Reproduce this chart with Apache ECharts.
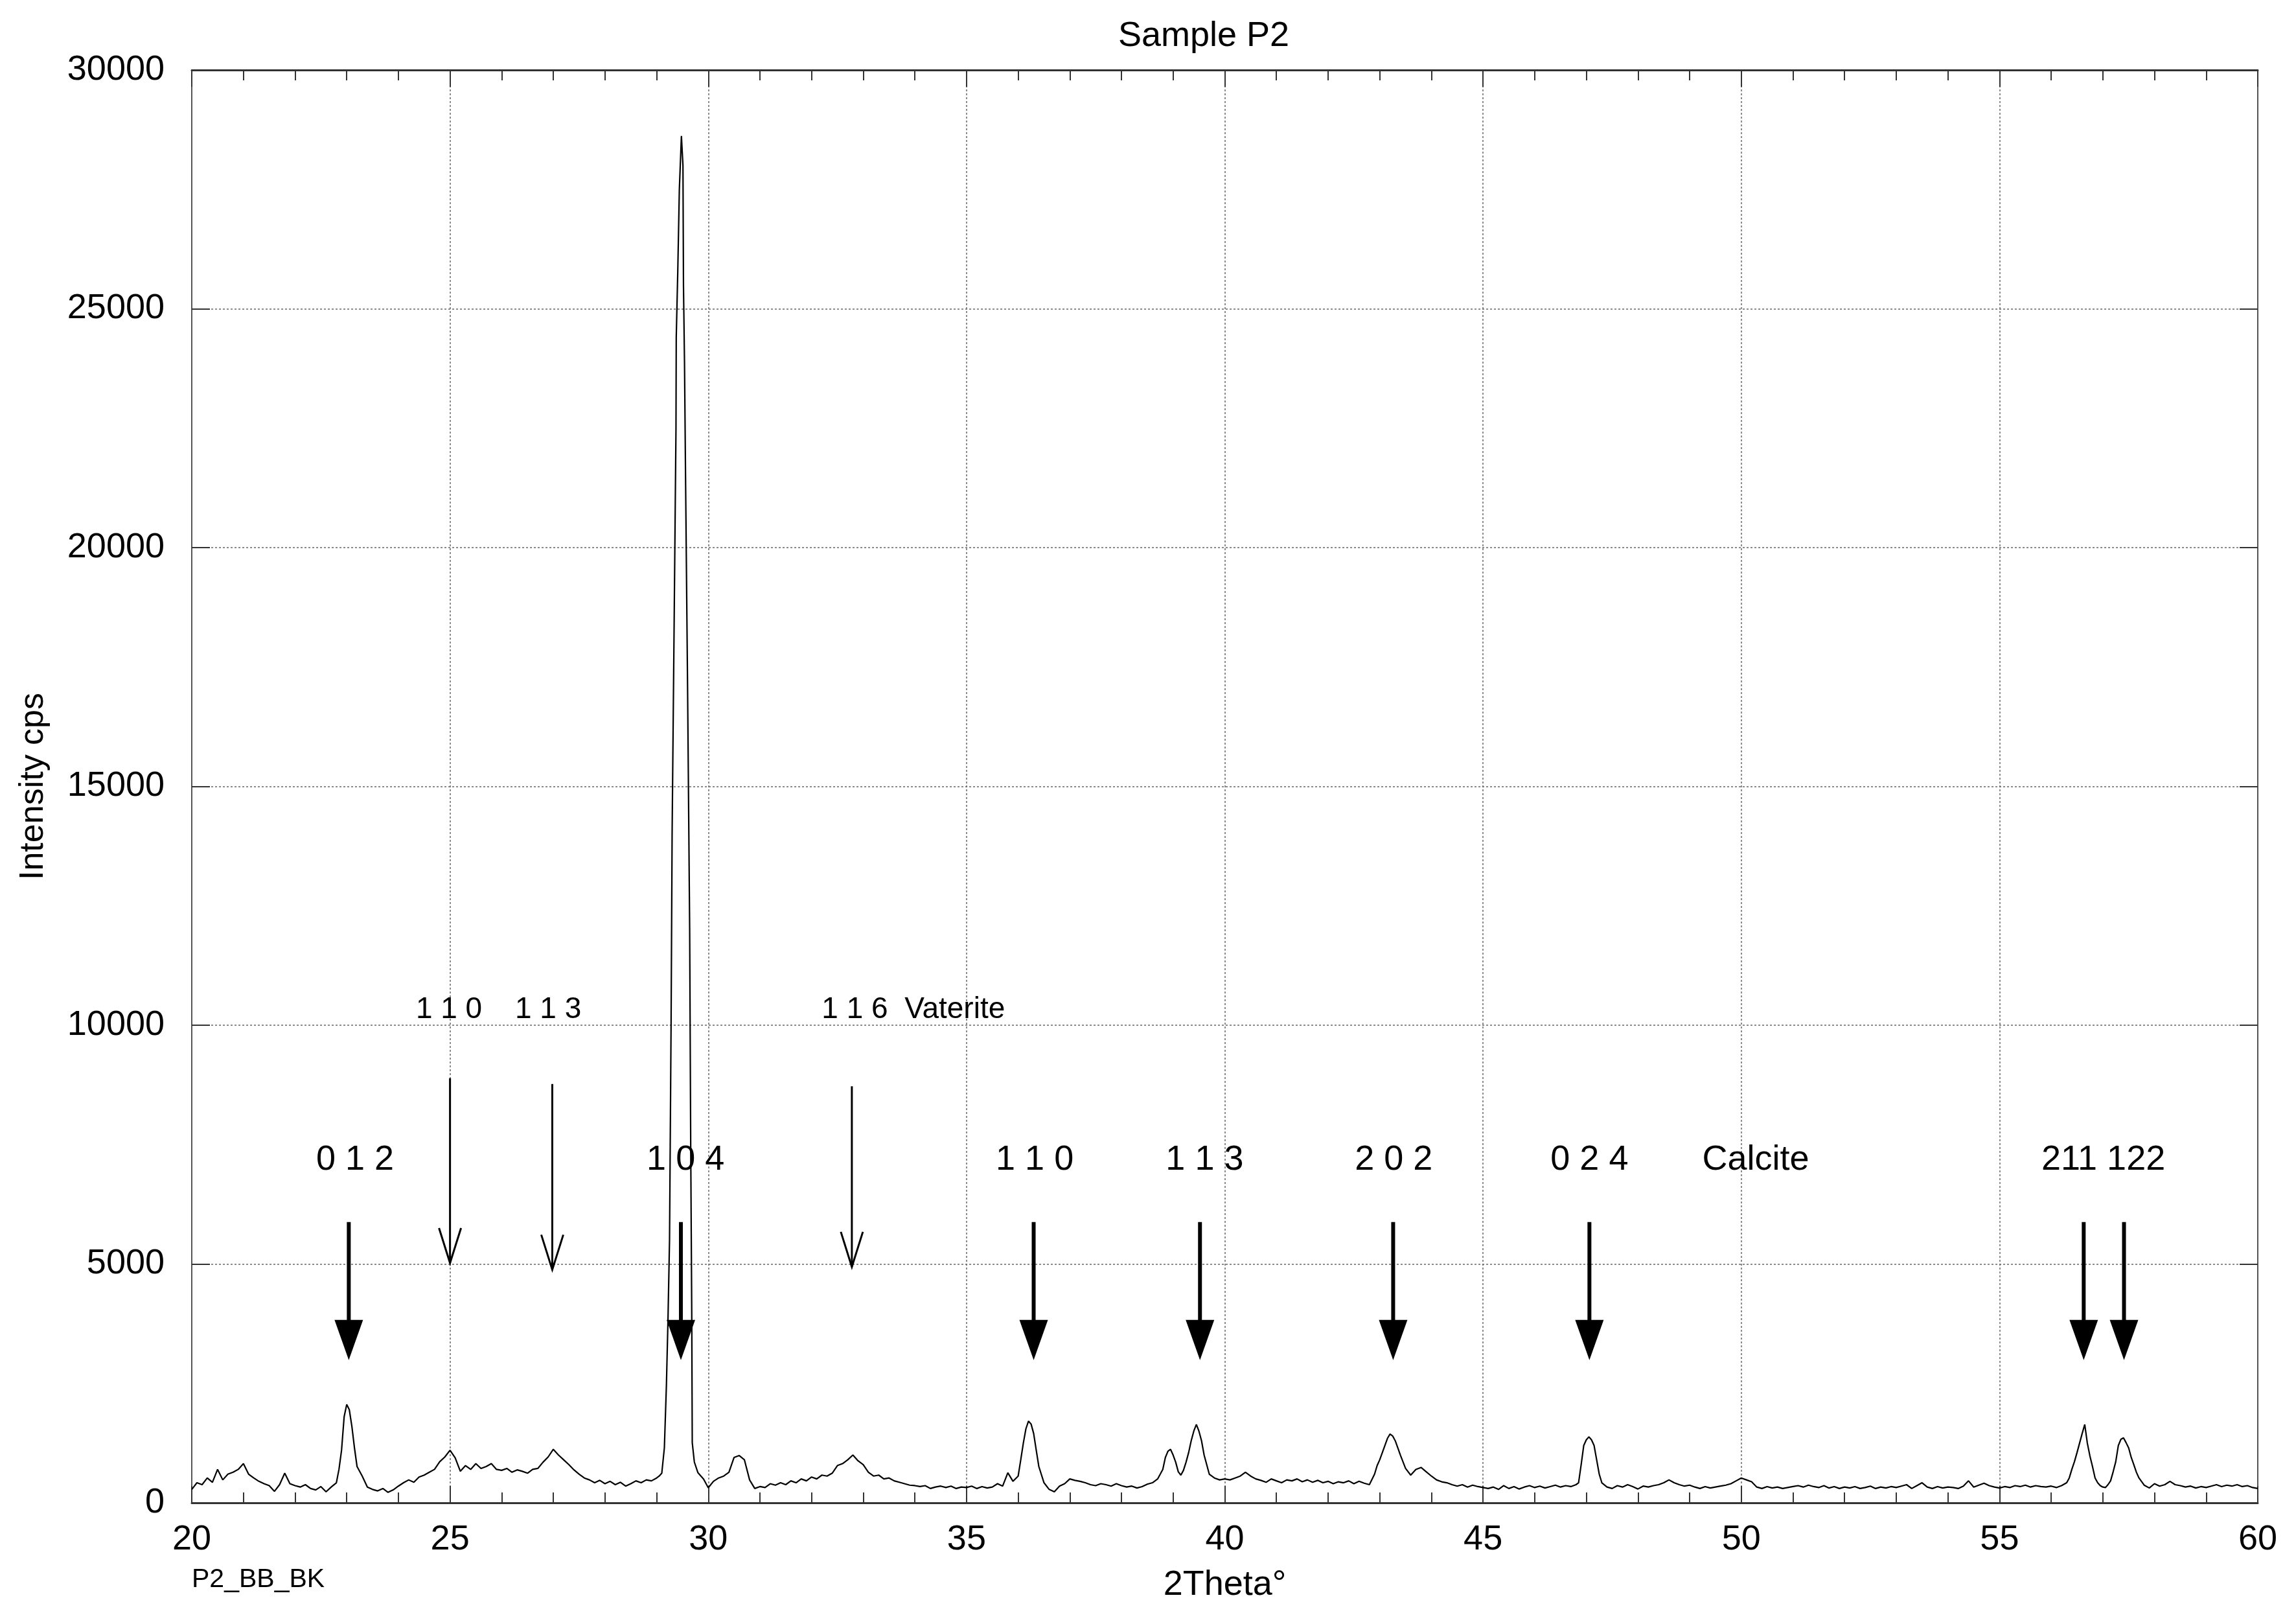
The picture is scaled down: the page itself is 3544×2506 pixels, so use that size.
<!DOCTYPE html>
<html>
<head>
<meta charset="utf-8">
<title>Sample P2</title>
<script src="https://cdn.jsdelivr.net/npm/echarts@6.0.0/dist/echarts.min.js"></script>
<style>
  html, body { margin: 0; padding: 0; background: #fff; }
  #chart { width: 3544px; height: 2506px; }
</style>
</head>
<body>
<div id="chart"></div>
<script>
// scan (2theta in degrees, intensity in cps)
const twoTheta = [
  20.0, 20.1, 20.2, 20.3, 20.4, 20.5, 20.6, 20.7, 20.8, 20.9,
  21.0, 21.1, 21.2, 21.3, 21.4, 21.5, 21.6, 21.7, 21.8, 21.9,
  22.0, 22.1, 22.2, 22.3, 22.4, 22.5, 22.6, 22.7, 22.8,
  22.85, 22.9, 22.95, 23.0, 23.05, 23.1, 23.15, 23.2,
  23.3, 23.4, 23.5, 23.6, 23.7, 23.8, 23.9,
  24.0, 24.1, 24.2, 24.3, 24.4, 24.5, 24.6, 24.7, 24.8, 24.9,
  25.0, 25.1, 25.2, 25.3, 25.4, 25.5, 25.6, 25.7, 25.8, 25.9,
  26.0, 26.1, 26.2, 26.3, 26.4, 26.5, 26.6, 26.7, 26.8, 26.9,
  27.0, 27.1, 27.2, 27.3, 27.4, 27.5, 27.6, 27.7, 27.8, 27.9,
  28.0, 28.1, 28.2, 28.3, 28.4, 28.5, 28.6, 28.7, 28.8, 28.9,
  29.0, 29.05,
  29.1, 29.15, 29.19, 29.22, 29.25, 29.28, 29.3, 29.34, 29.375, 29.38,
  29.41, 29.44, 29.48, 29.51, 29.52, 29.54, 29.56, 29.6, 29.64, 29.66,
  29.68, 29.69, 29.73, 29.8, 29.91,
  30.0, 30.1, 30.2, 30.3, 30.4, 30.5, 30.6, 30.7, 30.8, 30.9,
  31.0, 31.1, 31.2, 31.3, 31.4, 31.5, 31.6, 31.7, 31.8, 31.9,
  32.0, 32.1, 32.2, 32.3, 32.4, 32.5, 32.6, 32.7, 32.8, 32.9,
  33.0, 33.1, 33.2, 33.3, 33.4, 33.5, 33.6, 33.7, 33.8, 33.9,
  34.0, 34.1, 34.2, 34.3, 34.4, 34.5, 34.6, 34.7, 34.8, 34.9,
  35.0, 35.1, 35.2, 35.3, 35.4, 35.5, 35.6, 35.7, 35.8, 35.9,
  36.0,
  36.05, 36.1, 36.15, 36.2, 36.25, 36.3, 36.35, 36.4,
  36.5, 36.6, 36.7, 36.8, 36.9,
  37.0, 37.1, 37.2, 37.3, 37.4, 37.5, 37.6, 37.7, 37.8, 37.9,
  38.0, 38.1, 38.2, 38.3, 38.4, 38.5, 38.6, 38.7, 38.8,
  38.85, 38.9, 38.95, 39.0, 39.05, 39.1, 39.15, 39.2, 39.25, 39.3,
  39.35, 39.4, 39.45, 39.5, 39.55, 39.6, 39.65, 39.7,
  39.8, 39.9,
  40.0, 40.1, 40.2, 40.3, 40.4, 40.5, 40.6, 40.7, 40.8, 40.9,
  41.0, 41.1, 41.2, 41.3, 41.4, 41.5, 41.6, 41.7, 41.8, 41.9,
  42.0, 42.1, 42.2, 42.3, 42.4, 42.5, 42.6, 42.7, 42.8, 42.9,
  42.95, 43.0, 43.05, 43.1, 43.15, 43.2, 43.25, 43.3, 43.35, 43.4,
  43.5, 43.6, 43.7, 43.8, 43.9,
  44.0, 44.1, 44.2, 44.3, 44.4, 44.5, 44.6, 44.7, 44.8, 44.9,
  45.0, 45.1, 45.2, 45.3, 45.4, 45.5, 45.6, 45.7, 45.8, 45.9,
  46.0, 46.1, 46.2, 46.3, 46.4, 46.5, 46.6, 46.7, 46.8,
  46.85, 46.9, 46.95, 47.0, 47.05, 47.1, 47.15, 47.2, 47.25, 47.3,
  47.4, 47.5, 47.6, 47.7, 47.8, 47.9,
  48.0, 48.1, 48.2, 48.3, 48.4, 48.5, 48.6, 48.7, 48.8, 48.9,
  49.0, 49.1, 49.2, 49.3, 49.4, 49.5, 49.6, 49.7, 49.8, 49.9,
  50.0, 50.1, 50.2, 50.3, 50.4, 50.5, 50.6, 50.7, 50.8, 50.9,
  51.0, 51.1, 51.2, 51.3, 51.4, 51.5, 51.6, 51.7, 51.8, 51.9,
  52.0, 52.1, 52.2, 52.3, 52.4, 52.5, 52.6, 52.7, 52.8, 52.9,
  53.0, 53.1, 53.2, 53.3, 53.4, 53.5, 53.6, 53.7, 53.8, 53.9,
  54.0, 54.1, 54.2, 54.3, 54.4, 54.5, 54.6, 54.7, 54.8, 54.9,
  55.0, 55.1, 55.2, 55.3, 55.4, 55.5, 55.6, 55.7, 55.8, 55.9,
  56.0, 56.1, 56.2, 56.3,
  56.35, 56.4, 56.45, 56.5, 56.55, 56.6, 56.65, 56.7, 56.75, 56.8,
  56.85, 56.9, 56.95, 57.0, 57.05, 57.1, 57.15, 57.2, 57.25, 57.3,
  57.35, 57.4, 57.45, 57.5, 57.55, 57.6, 57.65, 57.7,
  57.8, 57.9,
  58.0, 58.1, 58.2, 58.3, 58.4, 58.5, 58.6, 58.7, 58.8, 58.9,
  59.0, 59.1, 59.2, 59.3, 59.4, 59.5, 59.6, 59.7, 59.8, 59.9,
  60.0
];

const intensity = [
  280, 420, 380, 520, 430, 700, 480, 600, 640, 700,
  820, 600, 520, 450, 400, 360, 240, 380, 620, 400,
  360, 330, 380, 300, 270, 340, 230, 330, 420,
  700, 1100, 1800, 2060, 1950, 1600, 1150, 760,
  560, 330, 280, 250, 300, 220, 270,
  350, 420, 480, 430, 540, 580, 640, 700, 860, 960,
  1100, 940, 660, 780, 700, 820, 720, 760, 820, 700,
  680, 720, 640, 690, 660, 620, 700, 720, 850, 960,
  1120, 1000, 900, 800, 690, 600, 520, 480, 420, 470,
  400, 450, 380, 430, 350, 400, 460, 420, 480, 460,
  520, 560,
  620, 1150, 2475, 3825, 5500, 10000, 14000, 18500, 22500, 24400,
  25800, 27500, 28620, 28000, 25500, 23870, 21500, 17000, 12000, 7500,
  4000, 1260, 855, 630, 495,
  315, 450, 520, 560, 640, 950, 990, 900, 480, 300,
  340, 320, 400, 370, 420, 380, 460, 420, 500, 460,
  540, 500, 580, 560, 620, 780, 820, 900, 1000, 880,
  800, 640, 560, 580, 500, 520, 460, 430, 400, 370,
  360, 340, 360, 300, 330, 350, 320, 350, 300, 330,
  320, 350, 300, 340, 310, 330, 400, 350, 630, 450,
  560,
  900, 1250, 1550, 1710, 1650, 1450, 1100, 760,
  420, 280, 230, 350, 400,
  500, 470, 450, 420, 380, 360, 400, 380, 350, 400,
  360, 330, 350, 310, 340, 390, 420, 500, 700,
  950, 1080, 1120, 1000, 850, 650, 580, 680, 850, 1050,
  1300, 1500, 1640, 1500, 1300, 1000, 800, 600,
  520, 480,
  500, 480, 520, 560, 640, 560, 500, 470, 430, 500,
  460, 420, 480, 460, 500, 440, 480, 430, 470, 420,
  450, 400, 440, 420, 460, 400, 450, 410, 380, 600,
  780, 900, 1050, 1200, 1350, 1440, 1400, 1300, 1150, 1000,
  720, 580, 700, 740, 650,
  560, 480, 440, 420, 380, 350, 380, 330, 370, 340,
  320, 300, 330, 280, 360, 300, 340, 290, 330, 360,
  320, 350, 310, 340, 370, 330, 360, 340, 380,
  420, 800, 1200, 1320, 1380, 1320, 1200, 900, 600, 420,
  330, 300, 360, 330, 380, 340,
  290, 350, 330, 360, 380, 420, 480, 420, 380, 350,
  370, 330, 300, 340, 310, 330, 350, 370, 400, 460,
  520, 480, 440, 330, 300, 340, 310, 330, 300, 320,
  340, 360, 330, 370, 340, 320, 360, 310, 340, 300,
  330, 310, 340, 300, 320, 350, 300, 330, 310, 340,
  320, 350, 380, 300, 360, 420, 330, 300, 340, 310,
  330, 320, 300, 350, 460, 330, 370, 410, 360, 330,
  310, 340, 320, 360, 340, 370, 330, 360, 340, 330,
  350, 320, 360, 420,
  520, 700, 860, 1050, 1250, 1450, 1640, 1250, 980, 760,
  520, 420, 360, 330, 320, 380, 460, 650, 860, 1200,
  1330, 1360, 1260, 1150, 950, 800, 640, 520,
  370, 310,
  400, 350, 380, 450, 380, 360, 330, 350, 310, 340,
  320, 350, 380, 340, 370, 350, 380, 340, 360, 320,
  300
];

// peak markers: [2theta, arrow top, arrow tip] in axis units
const calciteArrows = [
  [23.04, 5880, 2990], [29.47, 5880, 2990], [36.30, 5880, 2990], [39.52, 5880, 2990],
  [43.26, 5880, 2990], [47.06, 5880, 2990], [56.63, 5880, 2990], [57.41, 5880, 2990]
];
const vateriteArrows = [[25.00, 8890, 5020], [26.98, 8770, 4880], [32.78, 8720, 4940]];

// [text, 2theta]
const calciteLabels = [
  ['0 1 2', 23.16], ['1 0 4', 29.56], ['1 1 0', 36.32], ['1 1 3', 39.61],
  ['2 0 2', 43.27], ['0 2 4', 47.06], ['Calcite', 50.28], ['211 122', 57.01]
];
const calciteLabelY = 7180;
const vateriteLabels = [['1 1 0', 24.98], ['1 1 3', 26.90], ['1 1 6  Vaterite', 33.97]];
const vateriteLabelY = 10320;

const xTicks = { min: 20, max: 60, step: 5 };
const yTicks = { min: 0, max: 30000, step: 5000 };

const FONT = '"Liberation Sans", Arial, Helvetica, sans-serif';
const chart = echarts.init(document.getElementById('chart'));

const scan = twoTheta.map((t, i) => [t, intensity[i]]);

function arrowRenderer(heavy) {
  return function (params, api) {
    const top = api.coord([api.value(0), api.value(1)]);
    const tip = api.coord([api.value(0), api.value(2)]);
    const x = tip[0];
    if (heavy) {
      const h = 62, w = 22;
      return {
        type: 'group',
        children: [
          { type: 'line', shape: { x1: x, y1: top[1], x2: x, y2: tip[1] - h + 4 },
            style: { stroke: '#000', lineWidth: 6 } },
          { type: 'polygon', shape: { points: [[x - w, tip[1] - h], [x + w, tip[1] - h], [x, tip[1]]] },
            style: { fill: '#000' } }
        ]
      };
    }
    const h = 54, w = 17;
    return {
      type: 'group',
      children: [
        { type: 'line', shape: { x1: x, y1: top[1], x2: x, y2: tip[1] },
          style: { stroke: '#000', lineWidth: 3 } },
        { type: 'polyline', shape: { points: [[x - w, tip[1] - h], [x, tip[1]], [x + w, tip[1] - h]] },
          style: { stroke: '#000', lineWidth: 3, fill: null } }
      ]
    };
  };
}

function labelRenderer(list, size) {
  return function (params, api) {
    const p = api.coord([api.value(0), api.value(1)]);
    return {
      type: 'text', x: p[0], y: p[1],
      style: { text: list[params.dataIndex][0], fontSize: size, fontFamily: FONT,
               fill: '#000', align: 'center', verticalAlign: 'middle' }
    };
  };
}

const frameLine = { color: '#333', width: 3 };
const sideLine = { color: '#555', width: 2 };
const tickStyle = { color: '#333', width: 2 };
const gridStyle = { color: '#666', width: 1.5, type: [3, 3] };

chart.setOption({
  animation: false,
  backgroundColor: '#fff',
  textStyle: { fontFamily: FONT },
  grid: { left: 296, right: 59, top: 108, bottom: 187 },
  graphic: [
    { type: 'text', x: 1858, y: 56,
      style: { text: 'Sample P2', fontSize: 54, fontFamily: FONT, fill: '#000', align: 'center', verticalAlign: 'middle' } },
    { type: 'text', x: 296, y: 2438,
      style: { text: 'P2_BB_BK', fontSize: 41, fontFamily: FONT, fill: '#000', align: 'left', verticalAlign: 'middle' } }
  ],
  xAxis: [
    {
      type: 'value', position: 'bottom', min: xTicks.min, max: xTicks.max, interval: xTicks.step,
      name: '2Theta°', nameLocation: 'middle', nameGap: 100,
      nameTextStyle: { fontSize: 54, color: '#000' },
      axisLine: { onZero: false, lineStyle: frameLine },
      axisTick: { inside: true, length: 26, lineStyle: tickStyle },
      minorTick: { show: true, splitNumber: 5, length: 16, lineStyle: tickStyle },
      axisLabel: { fontSize: 54, color: '#000', margin: 30, showMinLabel: true, showMaxLabel: true,
                   formatter: v => String(v) },
      splitLine: { show: true, lineStyle: gridStyle }
    },
    {
      type: 'value', position: 'top', min: xTicks.min, max: xTicks.max, interval: xTicks.step,
      axisLine: { onZero: false, lineStyle: frameLine },
      axisTick: { inside: true, length: 26, lineStyle: tickStyle },
      minorTick: { show: true, splitNumber: 5, length: 16, lineStyle: tickStyle },
      axisLabel: { show: false },
      splitLine: { show: false }
    }
  ],
  yAxis: [
    {
      type: 'value', position: 'left', min: yTicks.min, max: yTicks.max, interval: yTicks.step,
      name: 'Intensity cps', nameLocation: 'middle', nameGap: 218, nameRotate: 90,
      nameTextStyle: { fontSize: 52, color: '#000' },
      axisLine: { show: true, onZero: false, lineStyle: sideLine },
      axisTick: { show: true, inside: true, length: 28, lineStyle: tickStyle },
      axisLabel: { fontSize: 54, color: '#000', margin: 42, showMinLabel: true, showMaxLabel: true,
                   formatter: v => String(v) },
      splitLine: { show: true, lineStyle: gridStyle }
    },
    {
      type: 'value', position: 'right', min: yTicks.min, max: yTicks.max, interval: yTicks.step,
      axisLine: { show: true, onZero: false, lineStyle: sideLine },
      axisTick: { show: true, inside: true, length: 28, lineStyle: tickStyle },
      axisLabel: { show: false },
      splitLine: { show: false }
    }
  ],
  series: [
    {
      type: 'line', name: 'P2', data: scan, showSymbol: false, silent: true,
      lineStyle: { color: '#000', width: 2.2 }
    },
    {
      type: 'custom', name: 'calcite', silent: true, z: 5,
      data: calciteArrows, renderItem: arrowRenderer(true)
    },
    {
      type: 'custom', name: 'vaterite', silent: true, z: 5,
      data: vateriteArrows, renderItem: arrowRenderer(false)
    },
    {
      type: 'custom', name: 'calcite hkl', silent: true, z: 6,
      data: calciteLabels.map(l => [l[1], calciteLabelY]), renderItem: labelRenderer(calciteLabels, 54)
    },
    {
      type: 'custom', name: 'vaterite hkl', silent: true, z: 6,
      data: vateriteLabels.map(l => [l[1], vateriteLabelY]), renderItem: labelRenderer(vateriteLabels, 46)
    }
  ]
});
</script>
</body>
</html>
